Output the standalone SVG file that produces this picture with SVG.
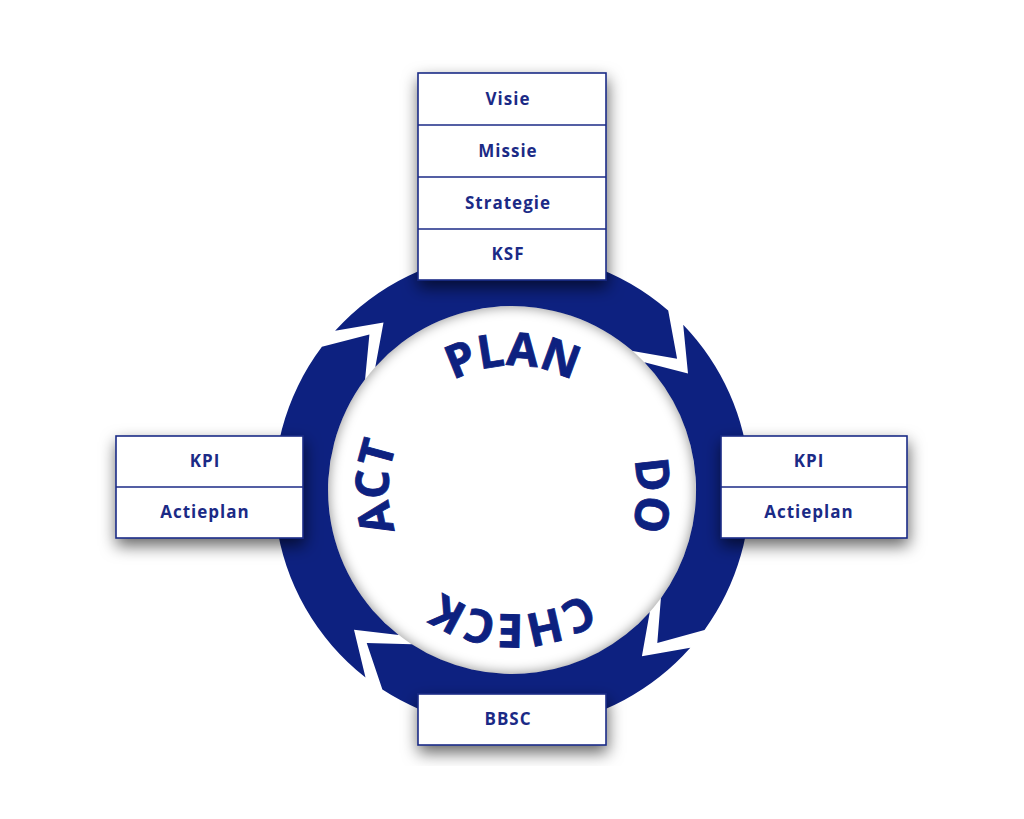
<svg xmlns="http://www.w3.org/2000/svg" xmlns:xlink="http://www.w3.org/1999/xlink" width="1024" height="819" viewBox="0 0 1024 819">
<style>
.seg{fill:#0d2180}
.box{fill:#fff;stroke:#1b2a86;stroke-width:1.6}
.div{stroke:#1b2a86;stroke-width:1.6}
.lbl{font-family:"Open Sans","Noto Sans",sans-serif;font-weight:700;font-size:17px;letter-spacing:1px;fill:#1b2a86;text-anchor:middle}
.ring{font-family:"Open Sans","Noto Sans",sans-serif;font-weight:700;font-size:46px;fill:#0d2180;stroke:#0d2180;stroke-width:0.8;text-anchor:middle}
</style>
<defs>
<filter id="sh" x="-40%" y="-40%" width="180%" height="180%">
<feDropShadow dx="1" dy="7" stdDeviation="8" flood-color="#000" flood-opacity="0.6"/>
</filter>
<filter id="blur" x="-20%" y="-20%" width="140%" height="140%">
<feGaussianBlur stdDeviation="6"/>
</filter>
<clipPath id="inner"><circle cx="512" cy="490" r="184"/></clipPath>
<path id="tp" d="M425.32,577.68 A124,124 0 1,1 600.68,402.32 A124,124 0 1,1 425.32,577.68"/>
</defs>
<rect width="1024" height="819" fill="#fff"/>
<g id="connectors">
<path id="seg-plan" class="seg" d="M335.1,330.8 A238,238 0 0,1 668.2,310.4 L677.1,358.7 L632.7,351.1 A184,184 0 0,0 375.3,366.9 L383.5,322.6 Z"/>
<path id="seg-do" class="seg" d="M683.2,324.7 A238,238 0 0,1 704.5,629.9 L657.3,643.1 L660.9,598.2 A184,184 0 0,0 644.4,362.2 L688.0,373.5 Z"/>
<path id="seg-check" class="seg" d="M690.3,647.7 A238,238 0 0,1 382.4,689.6 L366.7,643.1 L411.8,644.3 A184,184 0 0,0 649.8,611.9 L641.9,656.3 Z"/>
<path id="seg-act" class="seg" d="M365.5,677.5 A238,238 0 0,1 321.9,346.8 L369.4,334.4 L365.1,379.3 A184,184 0 0,0 398.7,635.0 L354.0,629.8 Z"/>
</g>
<g id="inner-shadow" clip-path="url(#inner)">
<circle cx="512" cy="490" r="192" fill="none" stroke="#000" stroke-opacity="0.4" stroke-width="18" filter="url(#blur)"/>
</g>
<g id="ring-labels">
<text class="ring"><textPath xlink:href="#tp" href="#tp" startOffset="12.8%">ACT</textPath></text>
<text class="ring"><textPath xlink:href="#tp" href="#tp" startOffset="37.5%">PLAN</textPath></text>
<text class="ring"><textPath xlink:href="#tp" href="#tp" startOffset="63.1%">DO</textPath></text>
<text class="ring"><textPath xlink:href="#tp" href="#tp" startOffset="87.5%">CHECK</textPath></text>
</g>
<g id="node-top">
<rect class="box" x="418" y="73" width="188" height="207" filter="url(#sh)"/>
<line class="div" x1="418" y1="125" x2="606" y2="125"/>
<line class="div" x1="418" y1="177" x2="606" y2="177"/>
<line class="div" x1="418" y1="229" x2="606" y2="229"/>
<text class="lbl" x="508" y="105">Visie</text>
<text class="lbl" x="508" y="157">Missie</text>
<text class="lbl" x="508" y="209">Strategie</text>
<text class="lbl" x="508" y="260">KSF</text>
</g>
<g id="node-left">
<rect class="box" x="116" y="436" width="187" height="102" filter="url(#sh)"/>
<line class="div" x1="116" y1="487" x2="303" y2="487"/>
<text class="lbl" x="205" y="467">KPI</text>
<text class="lbl" x="205" y="518">Actieplan</text>
</g>
<g id="node-right">
<rect class="box" x="721" y="436" width="186" height="102" filter="url(#sh)"/>
<line class="div" x1="721" y1="487" x2="907" y2="487"/>
<text class="lbl" x="809" y="467">KPI</text>
<text class="lbl" x="809" y="518">Actieplan</text>
</g>
<g id="node-bottom">
<rect class="box" x="418" y="694" width="188" height="51" filter="url(#sh)"/>
<text class="lbl" x="508" y="725">BBSC</text>
</g>
</svg>
